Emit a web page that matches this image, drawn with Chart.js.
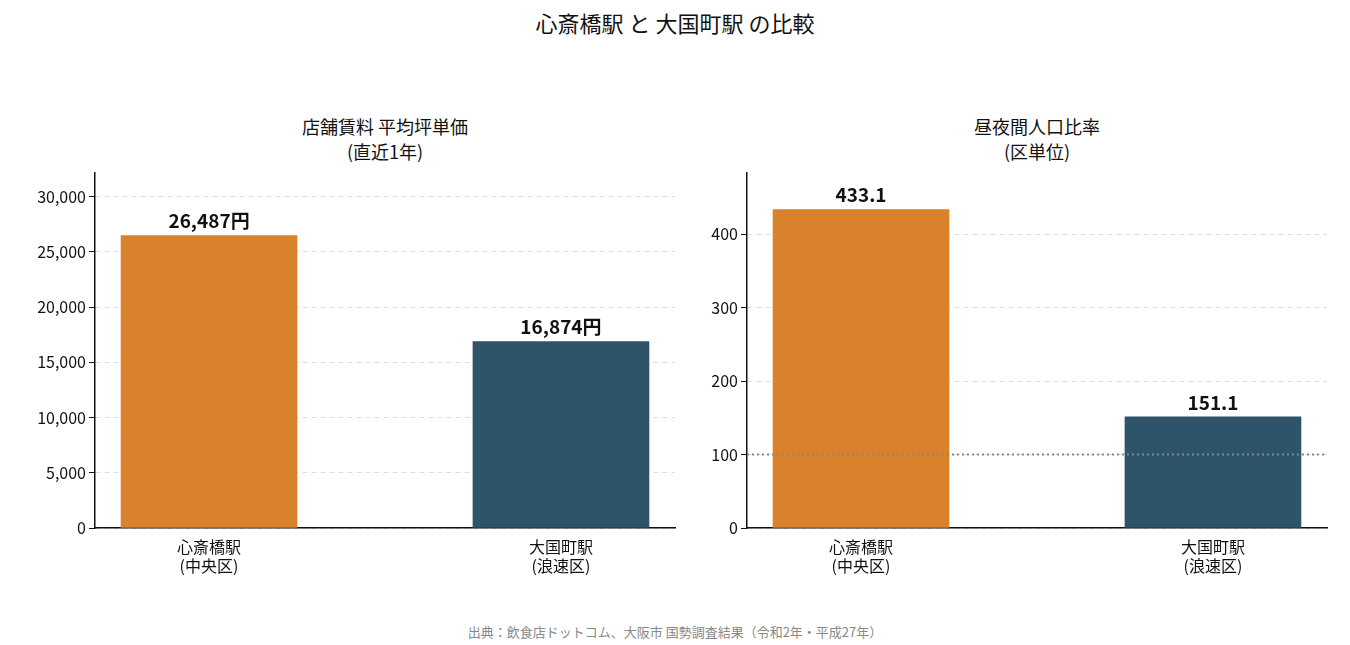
<!DOCTYPE html><html><head><meta charset="utf-8">
<script src="https://cdn.jsdelivr.net/npm/chart.js@4"></script>
<style>body{margin:0;width:1350px;height:645px;background:#fff;font-family:"Noto Sans CJK JP";position:relative;overflow:hidden}
.t{position:absolute;text-align:center;color:#111}
canvas{position:absolute}</style></head><body>
<div class="t" style="left:0;width:1350px;top:6px;font-size:22px">心斎橋駅 と 大国町駅 の比較</div>
<div class="t" style="left:95px;width:580px;top:114px;font-size:18px;line-height:25px">店舗賃料 平均坪単価<br>(直近1年)</div>
<div class="t" style="left:747px;width:580px;top:114px;font-size:18px;line-height:25px">昼夜間人口比率<br>(区単位)</div>
<div class="t" style="left:0;width:1350px;top:622px;font-size:13px;color:#888">出典：飲食店ドットコム、大阪市 国勢調査結果（令和2年・平成27年）</div>
<div style="position:absolute;left:0;top:160px;width:690px;height:440px"><canvas id="c1"></canvas></div>
<div style="position:absolute;left:690px;top:160px;width:650px;height:440px"><canvas id="c2"></canvas></div>
<script>
const categories=[["心斎橋駅","(中央区)"],["大国町駅","(浪速区)"]];
const rent=[26487,16874];
const ratio=[433.1,151.1];
const rentLabels=["26,487円","16,874円"];
const ratioLabels=["433.1","151.1"];
const rentTicks=[0,5000,10000,15000,20000,25000,30000];
const ratioTicks=[0,100,200,300,400];
const colors=["#D9822B","#2D5468"];
Chart.defaults.font.family='"Noto Sans CJK JP"';
Chart.defaults.color='#111';
const lbl={id:'lbl',afterDatasetsDraw(ch){const ctx=ch.ctx;const L=ch.options.plugins.lbl.labels;
ch.getDatasetMeta(0).data.forEach((b,i)=>{ctx.save();ctx.font='bold 19px "Noto Sans CJK JP"';ctx.fillStyle='#111';ctx.textAlign='center';ctx.textBaseline='bottom';ctx.fillText(L[i],b.x,b.y-5);ctx.restore();});}};
const ref={id:'ref',afterDatasetsDraw(ch){const v=ch.options.plugins.ref.v;if(v==null)return;const y=ch.scales.y.getPixelForValue(v);const ctx=ch.ctx;ctx.save();ctx.strokeStyle='#888';ctx.lineWidth=2;ctx.setLineDash([2,3]);ctx.beginPath();ctx.moveTo(ch.chartArea.left,y);ctx.lineTo(ch.chartArea.right,y);ctx.stroke();ctx.restore();}};
function mk(id,data,labels,max,ticks,yw,rp,refv){
new Chart(document.getElementById(id),{type:'bar',data:{datasets:[{data:data.map((v,i)=>({x:i,y:v})),backgroundColor:colors,barThickness:176}]},
options:{responsive:true,maintainAspectRatio:false,animation:false,layout:{padding:{top:13,right:rp}},
plugins:{legend:{display:false},tooltip:{enabled:false},lbl:{labels},ref:{v:refv}},
scales:{x:{type:'linear',min:-0.324,max:1.324,offset:false,afterBuildTicks(s){s.ticks=[{value:0},{value:1}]},grid:{display:false,tickLength:6,tickColor:'#111'},border:{color:'#111',width:1.5},ticks:{font:{size:16},color:'#111',callback:v=>categories[v]},afterFit(s){s.height=72}},
y:{min:0,max:max,afterBuildTicks(s){s.ticks=ticks.map(v=>({value:v}))},ticks:{font:{size:16},color:'#111'},grid:{color:'#ddd',tickLength:6,tickColor:'#111'},border:{color:'#111',width:1.5,dash:[5,4]},afterFit(s){s.width=yw}}}},
plugins:[lbl,ref]});}
mk('c1',rent,rentLabels,32150,rentTicks,95,15,null);
mk('c2',ratio,ratioLabels,483,ratioTicks,57,13,100);
</script></body></html>
